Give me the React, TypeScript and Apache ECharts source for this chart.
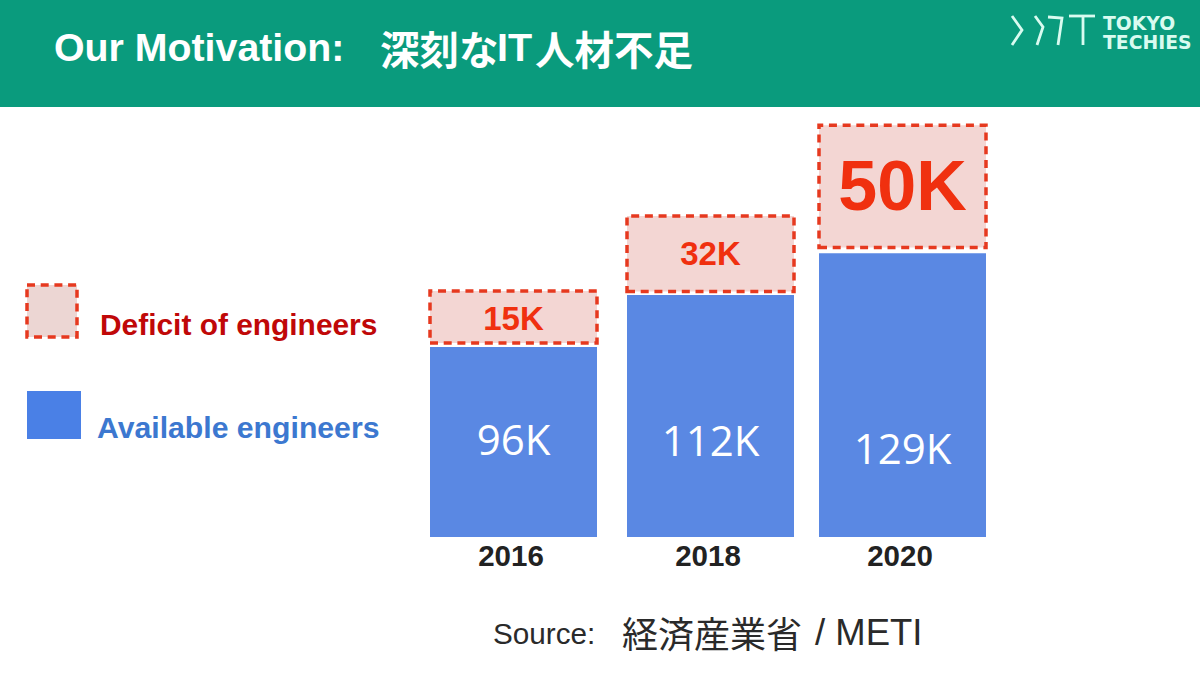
import React, { useEffect, useRef } from "react";
import * as echarts from "echarts";

const years = ["2016", "2018", "2020"];
// Values printed on the bars (thousands of engineers).
const availableValues = [96, 112, 129];
const deficitValues = [15, 32, 50];
// The reference's bars are not proportional to their printed values,
// so the heights are read separately from the picture, in axis units.
const availableHeights = [86.4, 110, 129];
const gapHeights = [1.0, 0.8, 1.8];
const deficitHeights = [25.2, 35.9, 57.2];

const SANS = "'Liberation Sans', Arial, sans-serif";
const CJK = "'Noto Sans CJK JP', sans-serif";
const GRID_LEFT = [430, 627, 819];
const GRID_WIDTH = 167;
const BORDER = 3.5;
const LABEL_SHIFT = [-3, 23, 52];
const DEFICIT_SHIFT = [1, 0, 0];
const DEFICIT_SIZE = [33, 33, 70];

function text(x: number, y: number, t: string, fontSize: number, fill: string, font = SANS, fontWeight: any = "normal") {
  return {
    type: "text",
    x,
    y,
    style: { text: t, fontSize, fill, fontFamily: font, fontWeight, verticalAlign: "middle" },
  };
}

function line(points: number[][]) {
  return {
    type: "polyline",
    shape: { points },
    style: { stroke: "#d9fbf0", lineWidth: 2.8, fill: "none" },
  };
}

export default function App() {
  const ref = useRef<HTMLDivElement>(null);
  useEffect(() => {
    const chart = echarts.init(ref.current!, null, { renderer: "svg" });
    const n = years.length;
    const series: any[] = [];
    years.forEach((_, i) => {
      series.push({
        type: "bar",
        xAxisIndex: i,
        yAxisIndex: i,
        barWidth: GRID_WIDTH,
        name: "Available engineers",
        data: [availableHeights[i]],
        itemStyle: { color: "#5a88e3" },
        label: {
          show: true,
          position: "inside",
          offset: [0, LABEL_SHIFT[i]],
          formatter: () => availableValues[i] + "K",
          color: "#ffffff",
          fontSize: 42,
          fontFamily: "'Open Sans', sans-serif",
        },
      });
      // Overlay grid: the dashed box's border is drawn on the bar's edge, so its grid is a border wider.
      const overlay = {
        type: "bar",
        xAxisIndex: n + i,
        yAxisIndex: n + i,
        stack: "deficit" + i,
        barWidth: GRID_WIDTH + BORDER,
      };
      series.push({
        ...overlay,
        name: "base",
        silent: true,
        data: [availableHeights[i] + gapHeights[i]],
        itemStyle: { color: "transparent" },
      });
      series.push({
        ...overlay,
        name: "Deficit of engineers",
        data: [deficitHeights[i]],
        itemStyle: {
          color: "#f3d6d3",
          borderColor: "#e6391f",
          borderWidth: BORDER,
          borderType: [8, 5.7],
        },
        label: {
          show: true,
          position: "inside",
          offset: [0, DEFICIT_SHIFT[i]],
          formatter: () => deficitValues[i] + "K",
          color: "#f0300f",
          fontSize: DEFICIT_SIZE[i],
          fontWeight: "bold",
          fontFamily: SANS,
        },
      });
    });

    chart.setOption({
      animation: false,
      backgroundColor: "#ffffff",
      grid: [
        ...years.map((_, i) => ({ left: GRID_LEFT[i], width: GRID_WIDTH, top: 97, height: 440 })),
        ...years.map((_, i) => ({ left: GRID_LEFT[i] - BORDER / 2, width: GRID_WIDTH + BORDER, top: 97, height: 440 })),
      ],
      xAxis: [
        ...years.map((y, i) => ({
          type: "category",
          gridIndex: i,
          data: [y],
          axisLine: { show: false },
          axisTick: { show: false },
          axisLabel: {
            color: "#222222",
            fontSize: 29.5,
            fontWeight: "bold",
            fontFamily: SANS,
            margin: 3,
            padding: [0, 5, 0, 0],
          },
        })),
        ...years.map((y, i) => ({ type: "category", gridIndex: n + i, data: [y], show: false })),
      ],
      yAxis: [
        ...years.map((_, i) => ({ type: "value", gridIndex: i, min: 0, max: 200, show: false })),
        ...years.map((_, i) => ({ type: "value", gridIndex: n + i, min: 0, max: 200, show: false })),
      ],
      series,
      graphic: [
        { type: "rect", z: -1, shape: { x: 0, y: 0, width: 1200, height: 107 }, style: { fill: "#0a9b7d" } },
        text(54, 47, "Our Motivation:", 39.3, "#ffffff", SANS, "bold"),
        text(380, 47, "深刻な", 39.5, "#ffffff", CJK, "bold"),
        text(497, 47, "IT", 39.5, "#ffffff", SANS, "bold"),
        text(535, 47, "人材不足", 39.5, "#ffffff", CJK, "bold"),
        line([[1012, 16], [1022, 30], [1012, 45]]),
        line([[1035, 16], [1043, 27], [1037, 45]]),
        line([[1048, 17], [1062, 18], [1058, 45]]),
        line([[1069, 16], [1095, 16]]),
        line([[1083, 16], [1083, 45]]),
        text(1103, 23, "TOKYO", 18.8, "#d9fbf0", "'DejaVu Sans', sans-serif", "bold"),
        text(1103, 42, "TECHIES", 18.8, "#d9fbf0", "'DejaVu Sans', sans-serif", "bold"),
        {
          type: "rect",
          shape: { x: 27, y: 285, width: 50, height: 52 },
          style: { fill: "#ecd6d3", stroke: "#e6391f", lineWidth: 3.5, lineDash: [8, 5.7] },
        },
        { type: "rect", shape: { x: 27, y: 391, width: 54, height: 48 }, style: { fill: "#4a80e6" } },
        text(100, 324, "Deficit of engineers", 29.9, "#c00808", SANS, "bold"),
        text(97, 427, "Available engineers", 30.2, "#3c78d0", SANS, "bold"),
        text(493, 633, "Source:", 29.7, "#2a2a2a"),
        text(622, 632, "経済産業省", 36, "#2a2a2a", CJK),
        text(815, 632, "/ METI", 36.5, "#2a2a2a"),
      ],
    });
    return () => chart.dispose();
  }, []);
  return <div ref={ref} style={{ position: "absolute", left: 0, top: 0, width: 1200, height: 675 }} />;
}
